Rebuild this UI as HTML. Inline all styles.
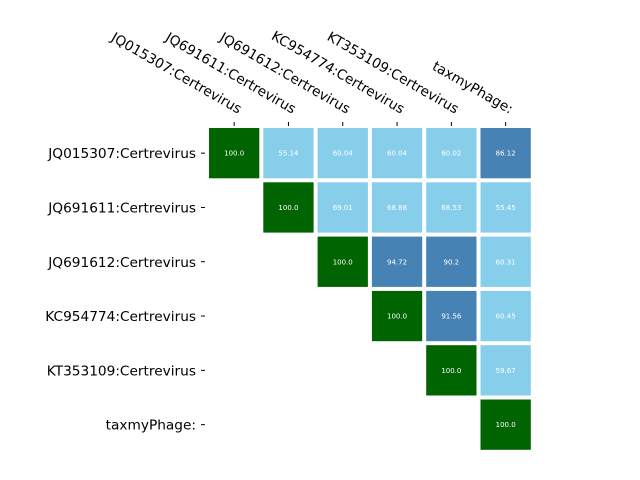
<!DOCTYPE html>
<html><head><meta charset="utf-8"><style>
body{margin:0;background:#fff}
svg{display:block;font-family:"DejaVu Sans","Liberation Sans",sans-serif}
</style></head><body>
<svg id="chart" width="640" height="480" xmlns="http://www.w3.org/2000/svg"></svg>
<script>
const labels = ["JQ015307:Certrevirus","JQ691611:Certrevirus","JQ691612:Certrevirus","KC954774:Certrevirus","KT353109:Certrevirus","taxmyPhage:"];
const row0 = [100.0,55.14,60.04,60.04,60.02,86.12];
const row1 = [null,100.0,69.01,68.88,68.53,55.45];
const row2 = [null,null,100.0,94.72,90.2,60.31];
const row3 = [null,null,null,100.0,91.56,60.45];
const row4 = [null,null,null,null,100.0,59.67];
const row5 = [null,null,null,null,null,100.0];
const values = [row0,row1,row2,row3,row4,row5];

const NS="http://www.w3.org/2000/svg";
const svgEl=document.getElementById('chart');
const gridLeft=207, gridTop=126, pitch=54.3, gap=2;
const xC=i=>gridLeft+pitch*(i+0.5);
const yC=i=>gridTop+pitch*(i+0.5);
function color(v){return v>=100?'#006400':(v>=80?'#4682b4':'#87ceeb');}
function mk(tag,attrs){const e=document.createElementNS(NS,tag);for(const k in attrs)e.setAttribute(k,attrs[k]);svgEl.appendChild(e);return e;}

values.forEach((row,r)=>{
  row.forEach((v,c)=>{
    if(v===null)return;
    const rect=mk('rect',{x:gridLeft+pitch*c+gap,y:gridTop+pitch*r+gap,width:pitch-2*gap,height:pitch-2*gap,fill:color(v)});
    
    
    const t=mk('text',{x:xC(c),y:yC(r)+2.5,'text-anchor':'middle','font-size':'7',fill:'#fff'});
    t.textContent=(v===100?'100.0':String(v));
    
    
  });
});

labels.forEach((l,i)=>{
  const tk=mk('line',{x1:xC(i),x2:xC(i),y1:gridTop-4,y2:gridTop,stroke:'#000','stroke-width':1});
  
  
  const ax=xC(i)+4, ay=gridTop-12;
  const t=mk('text',{x:ax,y:ay,'text-anchor':'end','font-size':'13.7','fill':'#000',transform:'rotate(30 '+ax+' '+ay+')'});
  t.textContent=l;
  
  
  const ty=mk('line',{x1:gridLeft-6,x2:gridLeft-2,y1:yC(i),y2:yC(i),stroke:'#000','stroke-width':1});
  
  
  const yl=mk('text',{x:196,y:yC(i)+5,'text-anchor':'end','font-size':'13.7',fill:'#000'});
  yl.textContent=l;
  
  
});
</script>
</body></html>
